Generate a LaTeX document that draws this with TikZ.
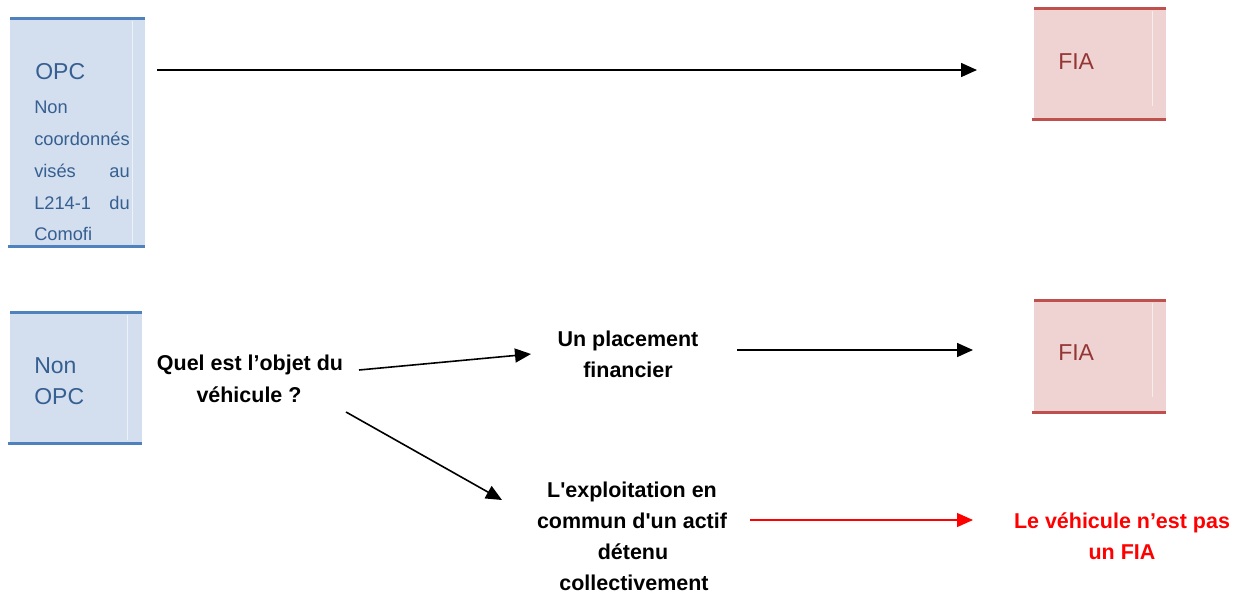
\documentclass[tikz,border=0pt]{standalone}
\usepackage{fontspec}
\setmainfont{Liberation Sans}
\newfontfamily\straightfont{Liberation Sans}
\usetikzlibrary{arrows.meta}
\definecolor{bluefill}{HTML}{D3DFEE}
\definecolor{blueline}{HTML}{4F81BD}
\definecolor{bluetext}{HTML}{365F91}
\definecolor{redfill}{HTML}{EFD3D2}
\definecolor{redline}{HTML}{C0504D}
\definecolor{redtext}{HTML}{943634}
\definecolor{alertred}{HTML}{FF0000}
\newcommand{\sq}{{\straightfont\bfseries\char"27}}
\begin{document}
\begin{tikzpicture}[x=0.75pt,y=-0.75pt,
  bigtxt/.style={anchor=base west,inner sep=0pt,font=\fontsize{17.25}{20}\selectfont},
  smalltxt/.style={anchor=base west,inner sep=0pt,text=bluetext,font=\fontsize{13.7}{16}\selectfont},
  boldtxt/.style={anchor=base,inner sep=0pt,font=\fontsize{16.1}{19}\selectfont\bfseries},
  edge/.style={line width=1.2pt,-{Triangle[length=12pt,width=10.5pt]}},
  bluebar/.style={blueline,line width=2.25pt},
  redbar/.style={redline,line width=2.25pt},
  sep/.style={white,opacity=0.6,line width=0.6pt}]
\useasboundingbox (0,0) rectangle (1240,594);
% OPC box
\fill[bluefill] (10,18) rectangle (145,246);
\draw[sep] (132,21) -- (132,244);
\draw[bluebar] (10,18) -- (145,18);
\draw[bluebar] (8,246) -- (145,246);
\node[bigtxt,text=bluetext] (opc) at (35,79) {OPC};
\node[smalltxt] (n1) at (34,113) {Non};
\node[smalltxt] (n2) at (34,145) {coordonnés};
\node[smalltxt] (n3a) at (34,177) {visés};
\node[smalltxt,anchor=base east] (n3b) at (130,177) {au};
\node[smalltxt] (n4a) at (34,209) {L214-1};
\node[smalltxt,anchor=base east] (n4b) at (130,209) {du};
\node[smalltxt] (n5) at (34,240) {Comofi};
% FIA top
\fill[redfill] (1034,8) rectangle (1166,119);
\draw[sep] (1152,11) -- (1152,106);
\draw[redbar] (1034,8) -- (1166,8);
\draw[redbar] (1032,119) -- (1166,119);
\node[bigtxt,text=redtext] (fia1) at (1058,69) {FIA};
% Non OPC box
\fill[bluefill] (10,312) rectangle (142,443);
\draw[sep] (127,315) -- (127,440);
\draw[bluebar] (10,312) -- (142,312);
\draw[bluebar] (8,443) -- (142,443);
\node[bigtxt,text=bluetext] (nonopc1) at (34,373) {Non};
\node[bigtxt,text=bluetext] (nonopc2) at (34,404) {OPC};
% FIA bottom
\fill[redfill] (1034,300) rectangle (1166,412);
\draw[sep] (1152,303) -- (1152,397);
\draw[redbar] (1034,300) -- (1166,300);
\draw[redbar] (1032,412) -- (1166,412);
\node[bigtxt,text=redtext] (fia2) at (1058,360) {FIA};
% question and outcomes
\node[boldtxt] (q1) at (250,370) {Quel est l’objet du};
\node[boldtxt] (q2) at (249,402) {véhicule ?};
\node[boldtxt] (p1) at (628,346) {Un placement};
\node[boldtxt] (p2) at (628,377) {financier};
\node[boldtxt] (e1) at (632,497) {L\sq exploitation en};
\node[boldtxt] (e2) at (632,528) {commun d\sq un actif};
\node[boldtxt] (e3) at (633,559) {détenu};
\node[boldtxt] (e4) at (634,590) {collectivement};
\node[boldtxt,text=alertred] (r1) at (1122,528) {Le véhicule n’est pas};
\node[boldtxt,text=alertred] (r2) at (1122,559) {un FIA};
% connector ends
\coordinate (a1s) at (157,70);  \coordinate (a1e) at (977,70);
\coordinate (a2s) at (359,370); \coordinate (a2e) at (531,354);
\coordinate (a3s) at (737,350); \coordinate (a3e) at (973,350);
\coordinate (a4s) at (346,412); \coordinate (a4e) at (502,500);
\coordinate (a5s) at (750,520); \coordinate (a5e) at (973,520);
\draw[edge] (a1s) -- (a1e);
\draw[edge] (a2s) -- (a2e);
\draw[edge] (a3s) -- (a3e);
\draw[edge] (a4s) -- (a4e);
\draw[edge,alertred,line width=1pt] (a5s) -- (a5e);
\end{tikzpicture}
\end{document}
